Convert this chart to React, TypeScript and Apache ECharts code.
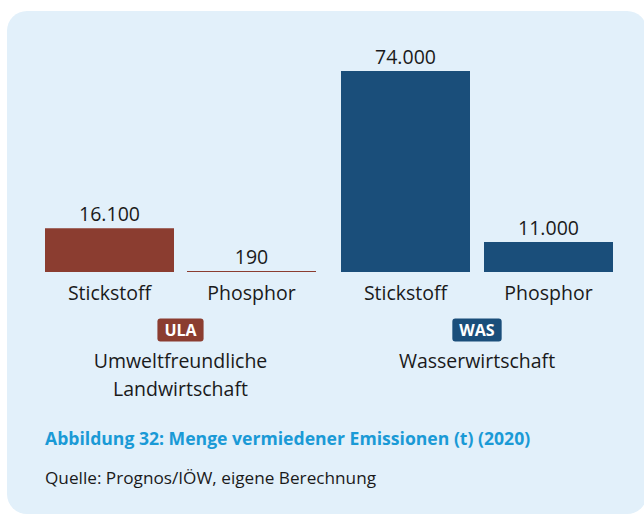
import React, { useEffect, useRef } from "react";
import * as echarts from "echarts";

const groupCodes = ["ULA", "WAS"];
const groupNames = ["Umweltfreundliche\nLandwirtschaft", "Wasserwirtschaft"];
const categories = ["Stickstoff", "Phosphor"];
const ulaValues = [16100, 190];
const wasValues = [74000, 11000];
const groupColors = ["#8B3D30", "#1A4E7A"];
const title = "Abbildung 32: Menge vermiedener Emissionen (t) (2020)";
const source = "Quelle: Prognos/IÖW, eigene Berechnung";

const FONT = "'Open Sans'";

const fmt = (v: number) => v.toLocaleString("de-DE");

export default function App() {
  const ref = useRef<HTMLDivElement>(null);
  useEffect(() => {
    const chart = echarts.init(ref.current!, null, { renderer: "svg" });
    const grids = [
      { left: 38.5, width: 284, top: 71, height: 201 },
      { left: 334, width: 286, top: 71, height: 201 },
    ];
    const seriesData = [ulaValues, wasValues];
    chart.setOption({
      animation: false,
      textStyle: { fontFamily: FONT },
      grid: grids,
      xAxis: grids.map((_, i) => ({
        type: "category",
        gridIndex: i,
        data: categories,
        axisLine: { show: false },
        axisTick: { show: false },
        axisLabel: { color: "#1a1a1a", fontSize: 19.5, margin: 10, fontFamily: FONT },
      })),
      yAxis: grids.map((_, i) => ({
        type: "value",
        gridIndex: i,
        min: 0,
        max: 74000,
        show: false,
      })),
      series: seriesData.map((vals, i) => ({
        type: "bar",
        xAxisIndex: i,
        yAxisIndex: i,
        data: vals,
        barWidth: 129,
        barMinHeight: 1,
        itemStyle: { color: groupColors[i] },
        label: {
          show: true,
          position: "top",
          distance: 5,
          color: "#1a1a1a",
          fontSize: 19.5,
          fontFamily: FONT,
          formatter: (p: any) => fmt(p.value),
        },
      })),
      graphic: [
        {
          type: "rect",
          z: -10,
          shape: { x: 7, y: 11, width: 640, height: 503, r: 20 },
          style: { fill: "#E2F0FA" },
        },
        ...groupCodes.map((code, i) => ({
          type: "text",
          x: grids[i].left + grids[i].width / 2,
          y: 330,
          style: {
            text: code,
            align: "center",
            verticalAlign: "middle",
            fill: "#ffffff",
            font: `bold 16px ${FONT}`,
            backgroundColor: groupColors[i],
            padding: [4, 7, 3, 7],
            borderRadius: 3,
          },
        })),
        ...groupNames.map((name, i) => ({
          type: "text",
          x: grids[i].left + grids[i].width / 2,
          y: 346,
          style: {
            text: name,
            align: "center",
            verticalAlign: "top",
            fill: "#1a1a1a",
            font: `19.5px ${FONT}`,
            lineHeight: 28,
          },
        })),
        {
          type: "text",
          x: 45,
          y: 438,
          style: {
            text: title,
            verticalAlign: "middle",
            fill: "#1A9AD6",
            font: `bold 17.6px ${FONT}`,
          },
        },
        {
          type: "text",
          x: 45,
          y: 477,
          style: {
            text: source,
            verticalAlign: "middle",
            fill: "#1a1a1a",
            font: `17.2px ${FONT}`,
          },
        },
      ],
    });
    return () => chart.dispose();
  }, []);
  return (
    <div
      ref={ref}
      style={{ position: "fixed", left: 0, top: 0, width: 644, height: 514, background: "#ffffff" }}
    />
  );
}
